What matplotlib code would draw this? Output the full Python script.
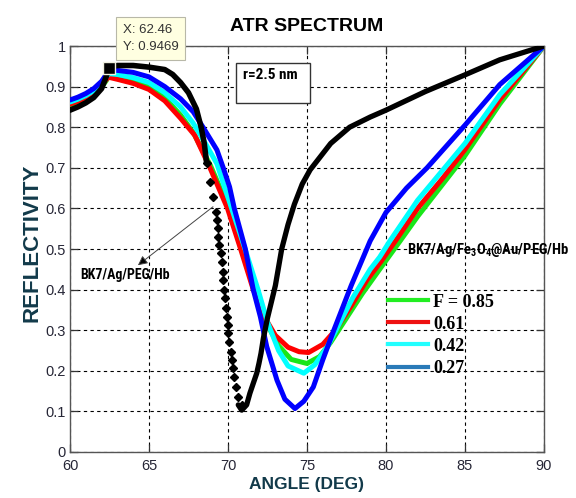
import matplotlib
matplotlib.use("Agg")
import matplotlib.pyplot as plt
from matplotlib.lines import Line2D
from matplotlib.patches import Rectangle

# ---------------- data ----------------
green_x = [60, 60.5, 61, 61.5, 62, 62.3, 62.46, 63, 64, 65, 66, 67, 67.8, 68.9, 70.0, 70.85, 71.65, 72.4,
           73.2, 74.0, 75.0, 75.8, 76.5, 77.5, 78.5, 79.6, 80.9, 82, 83.5, 85, 87.2, 90]
green_y = [0.853, 0.860, 0.869, 0.881, 0.899, 0.915, 0.928, 0.925, 0.915, 0.900, 0.872, 0.830, 0.787, 0.705,
           0.605, 0.500, 0.400, 0.320, 0.262, 0.228, 0.218, 0.235, 0.270, 0.330, 0.390, 0.450, 0.520, 0.580,
           0.655, 0.730, 0.857, 1.0]

red_x = [60, 60.5, 61, 61.5, 62, 62.3, 62.46, 63, 64, 65, 66, 67, 67.9, 68.86, 69.97, 70.8, 71.6, 72.35,
         73.0, 73.8, 74.5, 75.1, 76.0, 76.8, 77.8, 78.8, 79.7, 80.6, 82, 83.5, 85, 87.2, 90]
red_y = [0.857, 0.864, 0.873, 0.885, 0.903, 0.918, 0.923, 0.918, 0.908, 0.893, 0.865, 0.822, 0.780, 0.700,
         0.600, 0.500, 0.400, 0.330, 0.287, 0.258, 0.247, 0.245, 0.265, 0.300, 0.360, 0.424, 0.470, 0.520,
         0.600, 0.670, 0.745, 0.868, 1.0]

cyan_x = [60, 60.5, 61, 61.5, 62, 62.3, 62.46, 63, 64, 65, 66, 67, 67.8, 68.5, 69.3, 70.23, 71.08, 71.9,
          72.5, 73.2, 73.8, 74.8, 75.5, 76.3, 77.1, 77.9, 79.0, 79.6, 80.25, 82, 83.5, 85, 87.2, 90]
cyan_y = [0.862, 0.869, 0.878, 0.890, 0.908, 0.924, 0.932, 0.930, 0.922, 0.910, 0.885, 0.850, 0.810, 0.765,
          0.710, 0.600, 0.500, 0.400, 0.320, 0.250, 0.212, 0.194, 0.215, 0.260, 0.320, 0.380, 0.450, 0.480,
          0.520, 0.620, 0.690, 0.760, 0.880, 1.0]

blue_x = [60, 60.5, 61, 61.5, 62, 62.3, 62.46, 63, 64, 65, 66, 67, 67.8, 68.5, 69.3, 69.7, 70.1, 70.4,
          71.1, 71.6, 72.05, 72.45, 73.1, 73.6, 74.24, 74.8, 75.4, 76.0, 76.7, 77.8, 79.0, 80, 81.3, 82.6,
          85, 87.2, 90]
blue_y = [0.867, 0.874, 0.883, 0.895, 0.913, 0.930, 0.940, 0.940, 0.935, 0.924, 0.900, 0.870, 0.838, 0.795,
          0.744, 0.700, 0.653, 0.600, 0.500, 0.400, 0.333, 0.260, 0.177, 0.130, 0.107, 0.125, 0.160, 0.227,
          0.300, 0.410, 0.520, 0.590, 0.650, 0.700, 0.805, 0.905, 1.0]

# black curve (BK7/Ag/PEG/Hb): smooth part, steep (dotted) part, and rising part
black_a_x = [60, 60.5, 61, 61.5, 62, 62.3, 62.46, 63, 64, 65, 66, 66.5, 67, 67.5, 68, 68.3, 68.5, 68.65]
black_a_y = [0.842, 0.850, 0.860, 0.873, 0.895, 0.925, 0.947, 0.952, 0.952, 0.948, 0.942, 0.930, 0.910,
             0.885, 0.845, 0.800, 0.760, 0.711]
black_s_x = [68.65, 68.86, 69.07, 69.22, 69.28, 69.35, 69.39, 69.45, 69.54, 69.60, 69.66, 69.70, 69.77,
             69.81, 69.87, 69.92, 69.98, 70.02, 70.08, 70.17, 70.23, 70.30, 70.40, 70.51, 70.65, 70.87]
black_s_y = [0.711, 0.666, 0.629, 0.590, 0.571, 0.551, 0.530, 0.510, 0.489, 0.469, 0.444, 0.424, 0.399,
             0.379, 0.354, 0.333, 0.313, 0.292, 0.272, 0.247, 0.227, 0.206, 0.185, 0.161, 0.136, 0.116]
black_b_x = [70.65, 70.87, 71.18, 71.39, 71.60, 71.82, 71.96, 72.09, 72.24, 72.5, 73.0, 73.4, 73.8, 74.2,
             74.7, 75.2, 76.5, 77.7, 79.0, 80.0, 82.5, 85.0, 87.2, 90]
black_b_y = [0.116, 0.103, 0.116, 0.145, 0.169, 0.194, 0.218, 0.243, 0.280, 0.330, 0.410, 0.500, 0.560,
             0.610, 0.660, 0.695, 0.760, 0.800, 0.825, 0.842, 0.888, 0.929, 0.966, 1.0]

tip_x, tip_y = 62.46, 0.9469

x_ticks = [60, 65, 70, 75, 80, 85, 90]
y_ticks = [0, 0.1, 0.2, 0.3, 0.4, 0.5, 0.6, 0.7, 0.8, 0.9, 1]
y_tick_labels = ["0", "0.1", "0.2", "0.3", "0.4", "0.5", "0.6", "0.7", "0.8", "0.9", "1"]

legend_labels = ["F = 0.85", "0.61", "0.42", "0.27"]
legend_colors = ["#22ee22", "#ee1111", "#22ffff", "#2a7ab8"]

# ---------------- figure ----------------
plt.rcParams['font.family'] = ['Liberation Sans', 'DejaVu Sans']
plt.rcParams['mathtext.fontset'] = 'custom'
plt.rcParams['mathtext.rm'] = 'Roboto Condensed:bold'
plt.rcParams['mathtext.it'] = 'Roboto Condensed:bold'
plt.rcParams['mathtext.bf'] = 'Roboto Condensed:bold'
narrow = ['Roboto Condensed', 'Liberation Sans']

fig = plt.figure(figsize=(5.76, 4.98), dpi=100)
ax = fig.add_axes([0.1215, 0.0924, 0.8229, 0.8152])

lw = 3.6
ax.plot(green_x, green_y, color="#19e619", lw=lw, solid_capstyle='round', zorder=3)
ax.plot(red_x, red_y, color="#ff0000", lw=lw, solid_capstyle='round', zorder=4)
ax.plot(cyan_x, cyan_y, color="#00ffff", lw=lw, solid_capstyle='round', zorder=5)
ax.plot(blue_x, blue_y, color="#0000ff", lw=lw, solid_capstyle='round', zorder=6)

ax.plot(black_a_x, black_a_y, color="black", lw=4, solid_capstyle='round', zorder=7)
ax.plot(black_s_x, black_s_y, color="black", ls="none", marker="D", ms=3.8, zorder=7)
ax.plot(black_b_x, black_b_y, color="black", lw=3.8, solid_capstyle='round', zorder=7)

# data tip marker
ax.plot([tip_x], [tip_y], marker="s", ms=9, color="black", mec="#f0f0e0", mew=1, zorder=9, clip_on=False)
ax.text(63.35, 1.0185, "X: 62.46\nY: 0.9469", fontsize=9.5, color="#333333", va="center", ha="left",
        linespacing=1.6, zorder=10, clip_on=False,
        bbox=dict(boxstyle="square,pad=0.5", fc="#ffffe1", ec="#b8b8a8", lw=0.8))

ax.set_xlim(60, 90)
ax.set_ylim(0, 1)
ax.set_xticks(x_ticks)
ax.set_xticklabels([str(v) for v in x_ticks])
ax.set_yticks(y_ticks)
ax.set_yticklabels(y_tick_labels)

ax.grid(True, color="black", ls=(0, (3, 3)), lw=0.8)
ax.set_axisbelow(True)
ax.tick_params(direction="in", length=6, width=0.9, color="#333333", top=True, right=True,
               labelsize=10.5, labelcolor="#262636", pad=3)
ax.tick_params(axis="x", pad=5)
for s in ax.spines.values():
    s.set_color("#555555")
    s.set_linewidth(1.0)

ax.set_title("ATR SPECTRUM", fontsize=14, fontweight="bold", color="black", pad=11)
ax.set_xlabel("ANGLE (DEG)", fontsize=12.5, fontweight="bold", color="#123a4a", labelpad=3)
ax.set_ylabel("REFLECTIVITY", fontsize=16, fontweight="bold", color="#123a4a")
ax.yaxis.set_label_coords(-0.058, 0.515)

# r = 2.5 nm box
ax.add_patch(Rectangle((70.5, 0.86), 4.7, 0.098, fc="white", ec="#333333", lw=1.0, zorder=8))
ax.text(70.95, 0.928, "r=2.5 nm", family=narrow, fontsize=11,
        fontweight="bold", va="center", ha="left", zorder=9)

# annotation for BK7/Ag/PEG/Hb
ax.annotate("", xy=(64.3, 0.46), xytext=(69.05, 0.604),
            arrowprops=dict(arrowstyle="-|>", color="#444444", lw=0.7, mutation_scale=14,
                            shrinkA=0, shrinkB=0, fc="black"), zorder=9)
ax.text(60.65, 0.436, "BK7/Ag/PEG/Hb", family=narrow, fontsize=10,
        fontweight="bold", va="center", ha="left", zorder=9)

ax.text(81.3, 0.497, r"BK7/Ag/Fe$_3$O$_4$@Au/PEG/Hb", family=narrow, fontsize=10.5, fontweight="bold",
        va="center", ha="left", zorder=9, clip_on=False)

handles = [Line2D([], [], color=c, lw=3) for c in legend_colors]
leg = ax.legend(handles, legend_labels, loc="upper left", bbox_to_anchor=(0.671, 0.39), frameon=False,
                prop=dict(family=["Liberation Serif", "DejaVu Serif"], weight="bold", size=13),
                handlelength=2.2, handletextpad=0.3, labelspacing=0.28, borderaxespad=0, borderpad=0)
leg.set_zorder(10)

fig.savefig("out.png", dpi=100)
